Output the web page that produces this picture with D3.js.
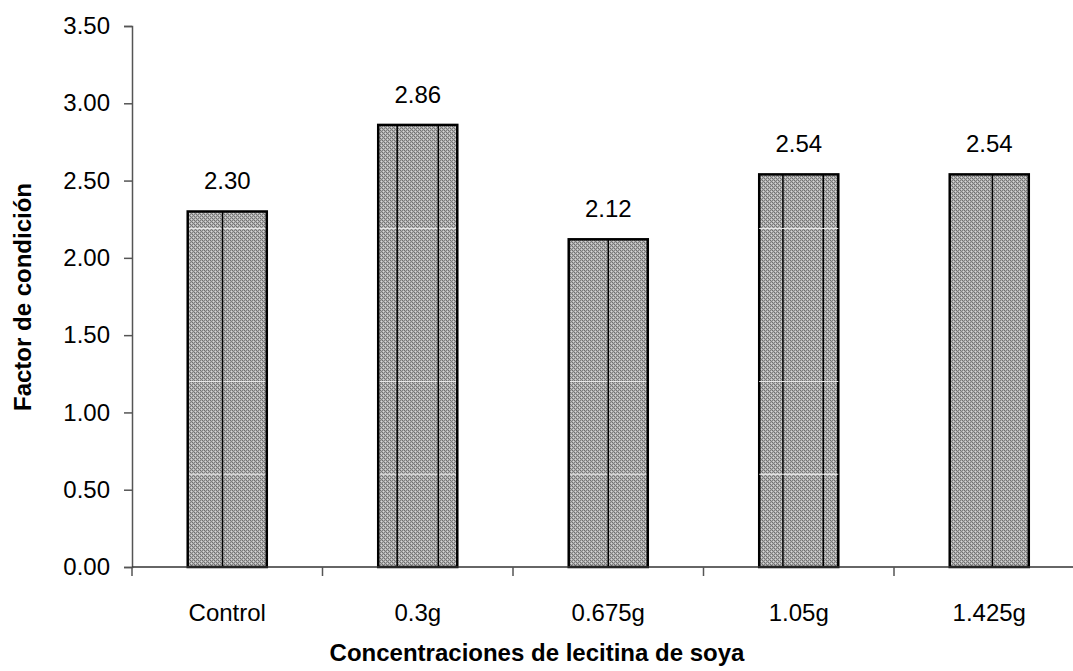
<!DOCTYPE html>
<html>
<head>
<meta charset="utf-8">
<script src="https://cdn.jsdelivr.net/npm/d3@7"></script>
<style>
  body { margin: 0; background: #fff; }
  text { font-family: "Liberation Sans", Arial, sans-serif; }
</style>
</head>
<body>
<div id="chart"></div>
<script>
// data
var categories = ["Control", "0.3g", "0.675g", "1.05g", "1.425g"];
var values = [2.30, 2.86, 2.12, 2.54, 2.54];
var valueLabels = ["2.30", "2.86", "2.12", "2.54", "2.54"];
var yTicks = [0, 0.5, 1.0, 1.5, 2.0, 2.5, 3.0, 3.5];
// inner dividing lines seen in each bar (fraction of bar width)
var barDividers = [[0.44], [0.24, 0.76], [0.5], [0.3, 0.81], [0.54]];

var svgWidth = 1073, svgHeight = 671;
var margin = {left: 132, top: 26};
var plotW = 952.5, plotH = 541;

var svg = d3.select("#chart").append("svg")
    .attr("width", svgWidth)
    .attr("height", svgHeight);

// grey dither fill
var defs = svg.append("defs");
var pat = defs.append("pattern")
    .attr("id", "dots")
    .attr("width", 4).attr("height", 4)
    .attr("patternUnits", "userSpaceOnUse");
pat.append("rect").attr("width", 4).attr("height", 4).attr("fill", "#b0b0b0");
[[0, 0, "#6e6e6e"], [2, 0, "#808080"], [1, 1, "#808080"], [3, 1, "#d6d6d6"],
 [0, 2, "#808080"], [2, 2, "#6e6e6e"], [1, 3, "#d6d6d6"], [3, 3, "#808080"]]
  .forEach(function(p) {
    pat.append("rect").attr("x", p[0]).attr("y", p[1])
        .attr("width", 1).attr("height", 1).attr("fill", p[2]);
  });

var g = svg.append("g")
    .attr("transform", "translate(" + margin.left + "," + margin.top + ")");

var x = d3.scaleBand()
    .domain(categories)
    .range([0, plotW])
    .paddingInner(0.585)
    .paddingOuter(0.2925);

var y = d3.scaleLinear()
    .domain([0, 3.5])
    .range([plotH, 0]);

// bars
var bars = g.selectAll(".bar")
    .data(values)
    .enter()
    .append("g")
    .attr("class", "bar");

bars.append("rect")
    .attr("x", function(d, i) { return x(categories[i]); })
    .attr("y", function(d) { return y(d); })
    .attr("width", x.bandwidth())
    .attr("height", function(d) { return plotH - y(d); })
    .attr("fill", "url(#dots)");

// faint light streaks across the fill
[0.6, 1.2, 2.19].forEach(function(v) {
    bars.filter(function(d) { return d > v; })
        .append("line")
        .attr("x1", function(d) { return x(categories[values.indexOf(d)]); })
        .attr("x2", function(d) { return x(categories[values.indexOf(d)]) + x.bandwidth(); })
        .attr("y1", y(v)).attr("y2", y(v))
        .attr("stroke", "#e6e6e6")
        .attr("stroke-width", 1);
});

bars.each(function(d, i) {
    var b = d3.select(this);
    var x0 = x(categories[i]);
    barDividers[i].forEach(function(f) {
        b.append("line")
            .attr("x1", x0 + f * x.bandwidth())
            .attr("x2", x0 + f * x.bandwidth())
            .attr("y1", y(d)).attr("y2", plotH)
            .attr("stroke", "#000")
            .attr("stroke-width", 1.5);
    });
    b.append("rect")
        .attr("x", x0)
        .attr("y", y(d))
        .attr("width", x.bandwidth())
        .attr("height", plotH - y(d))
        .attr("fill", "none")
        .attr("stroke", "#000")
        .attr("stroke-width", 2.5);
});

// value labels
g.selectAll(".val")
    .data(values)
    .enter()
    .append("text")
    .attr("x", function(d, i) { return x(categories[i]) + x.bandwidth() / 2; })
    .attr("y", function(d) { return y(d) - 22; })
    .attr("text-anchor", "middle")
    .attr("font-size", "24px")
    .attr("fill", "#000")
    .text(function(d, i) { return valueLabels[i]; });

// y axis
var yAxis = d3.axisLeft(y)
    .tickValues(yTicks)
    .tickFormat(d3.format(".2f"))
    .tickSize(8)
    .tickPadding(14);
var ya = g.append("g").call(yAxis);
ya.select(".domain").attr("stroke", "#555").attr("stroke-width", 1.5);
ya.selectAll(".tick line").attr("stroke", "#555").attr("stroke-width", 1.5);
ya.selectAll(".tick text")
    .attr("font-size", "24px")
    .attr("font-family", "Liberation Sans, Arial, sans-serif")
    .attr("fill", "#000");

// x axis, ticks at band boundaries
var xa = g.append("g").attr("transform", "translate(0," + plotH + ")");
xa.append("line")
    .attr("x1", 0).attr("x2", plotW)
    .attr("stroke", "#333").attr("stroke-width", 1.5);
var step = x.step();
xa.selectAll(".xtick")
    .data(d3.range(categories.length + 1))
    .enter()
    .append("line")
    .attr("x1", function(i) { return i * step; })
    .attr("x2", function(i) { return i * step; })
    .attr("y1", 0).attr("y2", 9)
    .attr("stroke", "#555").attr("stroke-width", 1.5);
xa.selectAll(".xlab")
    .data(categories)
    .enter()
    .append("text")
    .attr("x", function(d) { return x(d) + x.bandwidth() / 2; })
    .attr("y", 54)
    .attr("text-anchor", "middle")
    .attr("font-size", "24px")
    .attr("fill", "#000")
    .text(function(d) { return d; });

// axis titles
svg.append("text")
    .attr("x", 537)
    .attr("y", 661)
    .attr("text-anchor", "middle")
    .attr("font-size", "24px")
    .attr("font-weight", "bold")
    .text("Concentraciones de lecitina de soya");

svg.append("text")
    .attr("transform", "translate(31,297) rotate(-90)")
    .attr("text-anchor", "middle")
    .attr("font-size", "24px")
    .attr("font-weight", "bold")
    .text("Factor de condición");
</script>
</body>
</html>
